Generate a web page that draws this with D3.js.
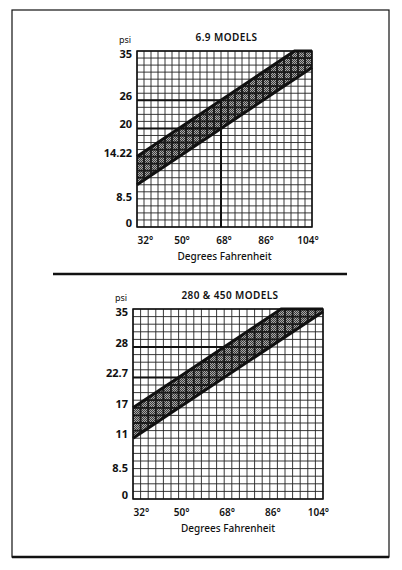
<!DOCTYPE html>
<html>
<head>
<meta charset="utf-8">
<script src="https://cdn.jsdelivr.net/npm/d3@7"></script>
<style>
body { margin:0; background:#fff; }
svg text { font-family: "Noto Sans", sans-serif; fill:#111; }
</style>
</head>
<body>
<svg width="402" height="570"></svg>
<script>

// degrees Fahrenheit, same for both charts
var xTicks = [32, 50, 68, 86, 104];
var xExtent = [32, 107];	// grid is 25 squares of 3 deg

// 6.9 models
var topTitle = "6.9 MODELS";
var topYTicks = [0, 8.5, 14.22, 20, 26, 35];
var topYTickRows = [0, 3.7, 10, 14, 18, 25];	// psi scale is not linear: grid row of each reading
var topUpper = [[32, 14.22], [68, 26], [99.5, 35], [107, 35]];
var topLower = [[32, 10.6], [68, 20], [107, 32]];
var topReadH = [[68, 26], [68, 20]];	// read-off lines [degF, psi]
var topReadV = [[68, 26]];

// 280 & 450 models
var botTitle = "280 & 450 MODELS";
var botYTicks = [0, 8.5, 11, 17, 22.7, 28, 35];
var botYTickRows = [0, 3.5, 8, 12, 16, 20, 25];
var botUpper = [[32, 17], [50, 22.7], [68, 28], [90.5, 35], [107, 35]];
var botLower = [[32, 11], [107, 34.5]];
var botReadH = [[50, 22.7], [68, 28]];
var botReadV = [];

var svg = d3.select("svg");

// halftone for the band
var defs = svg.append("defs");
var pat = defs.append("pattern")
	.attr("id", "screen")
	.attr("width", 2).attr("height", 2)
	.attr("patternUnits", "userSpaceOnUse");
pat.append("rect").attr("width", 2).attr("height", 2).attr("fill", "#a8a8a8");
pat.append("rect").attr("width", 1).attr("height", 1).attr("fill", "#3c3c3c");
pat.append("rect").attr("x", 1).attr("y", 1).attr("width", 1).attr("height", 1).attr("fill", "#3c3c3c");

// page frame
svg.append("rect")
	.attr("x", 12).attr("y", 10)
	.attr("width", 377).attr("height", 547)
	.attr("fill", "none").attr("stroke", "#111").attr("stroke-width", 1.2);
svg.append("line")
	.attr("x1", 12).attr("x2", 389).attr("y1", 557).attr("y2", 557)
	.attr("stroke", "#111").attr("stroke-width", 2.5);
// separator
svg.append("line")
	.attr("x1", 53).attr("x2", 347).attr("y1", 274).attr("y2", 274)
	.attr("stroke", "#111").attr("stroke-width", 2.5);

drawChart({ id: "a", left: 137, top: 51, w: 175, h: 176 },
	topTitle, topYTicks, topYTickRows, topUpper, topLower, topReadH, topReadV);
drawChart({ id: "b", left: 133, top: 309, w: 190, h: 190 },
	botTitle, botYTicks, botYTickRows, botUpper, botLower, botReadH, botReadV);

function drawChart(box, title, yTicks, yRows, upper, lower, readH, readV) {

	var cols = 25, rows = 25;
	var g = svg.append("g");

	var x = d3.scaleLinear().domain(xExtent).range([box.left, box.left + box.w]);
	var col = d3.scaleLinear().domain([0, cols]).range([box.left, box.left + box.w]);
	var row = d3.scaleLinear().domain([0, rows]).range([box.top + box.h, box.top]);
	// psi -> pixels, piecewise through the printed readings
	var y = d3.scaleLinear().domain(yTicks).range(yRows.map(row));

	var line = d3.line().x(function(d){ return x(d[0]); }).y(function(d){ return y(d[1]); });
	var band = upper.concat(lower.slice().reverse());

	//帯
	g.append("path")
		.attr("d", line(band) + "Z")
		.attr("fill", "url(#screen)");

	//方眼
	function grid(sel, w, c) {
		sel.selectAll("line.v")
			.data(d3.range(cols + 1))
			.enter().append("line")
			.attr("class", "v")
			.attr("x1", col).attr("x2", col)
			.attr("y1", box.top).attr("y2", box.top + box.h)
			.attr("stroke", c).attr("stroke-width", w);
		sel.selectAll("line.h")
			.data(d3.range(rows + 1))
			.enter().append("line")
			.attr("class", "h")
			.attr("y1", row).attr("y2", row)
			.attr("x1", box.left).attr("x2", box.left + box.w)
			.attr("stroke", c).attr("stroke-width", w);
	}
	grid(g.append("g"), 0.9, "#222");

	// heavier crosshatch inside the band
	g.append("clipPath").attr("id", "clip" + box.id)
		.append("path").attr("d", line(band) + "Z");
	grid(g.append("g").attr("clip-path", "url(#clip" + box.id + ")"), 1.8, "#1a1a1a");

	// read-off lines
	g.selectAll("line.rh")
		.data(readH)
		.enter().append("line")
		.attr("x1", x(xExtent[0]))
		.attr("x2", function(d){ return x(d[0]); })
		.attr("y1", function(d){ return y(d[1]); })
		.attr("y2", function(d){ return y(d[1]); })
		.attr("stroke", "#111").attr("stroke-width", 2);
	g.selectAll("line.rv")
		.data(readV)
		.enter().append("line")
		.attr("x1", function(d){ return x(d[0]); })
		.attr("x2", function(d){ return x(d[0]); })
		.attr("y1", y(0))
		.attr("y2", function(d){ return y(d[1]); })
		.attr("stroke", "#111").attr("stroke-width", 2);

	// band edges
	[upper, lower].forEach(function(pts){
		g.append("path")
			.attr("d", line(pts))
			.attr("fill", "none")
			.attr("stroke", "#111")
			.attr("stroke-width", 3);
	});

	g.append("rect")
		.attr("x", box.left).attr("y", box.top)
		.attr("width", box.w).attr("height", box.h)
		.attr("fill", "none").attr("stroke", "#111").attr("stroke-width", 1.5);

	// axes
	var yMax = yTicks[yTicks.length - 1];
	var ya = g.append("g")
		.attr("transform", "translate(" + box.left + ",0)")
		.call(d3.axisLeft(y).tickValues(yTicks).tickSize(0).tickPadding(5).tickFormat(d3.format("")));
	ya.select(".domain").remove();
	ya.selectAll("text")
		.attr("font-family", null)
		.attr("font-size", 11)
		.attr("font-weight", "bold")
		.attr("y", function(d){ return d === yMax ? 3 : -4; });

	var xa = g.append("g")
		.attr("transform", "translate(0," + (box.top + box.h) + ")")
		.call(d3.axisBottom(x).tickValues(xTicks).tickSize(0).tickPadding(10).tickFormat(function(d){ return d + "°"; }));
	xa.select(".domain").remove();
	xa.selectAll("text")
		.attr("font-family", null)
		.attr("font-size", 10)
		.attr("font-weight", 600)
		.attr("text-anchor", function(d, i){ return i === 0 ? "start" : "middle"; })
		.attr("dx", function(d, i){ return i === 0 ? 0 : 2.5; });

	var cx = box.left + box.w / 2;
	g.append("text")
		.attr("x", cx).attr("y", box.top + box.h + 33)
		.attr("text-anchor", "middle")
		.attr("font-size", 10)
		.attr("font-weight", 500)
		.text("Degrees Fahrenheit");

	g.append("text")
		.attr("x", cx + 2).attr("y", box.top - 10)
		.attr("text-anchor", "middle")
		.attr("font-size", 10)
		.attr("font-weight", 600)
		.attr("letter-spacing", 0.4)
		.text(title);

	g.append("text")
		.attr("x", box.left - 12).attr("y", box.top - 8)
		.attr("text-anchor", "middle")
		.attr("font-size", 9)
		.text("psi");
}
</script>
</body>
</html>
